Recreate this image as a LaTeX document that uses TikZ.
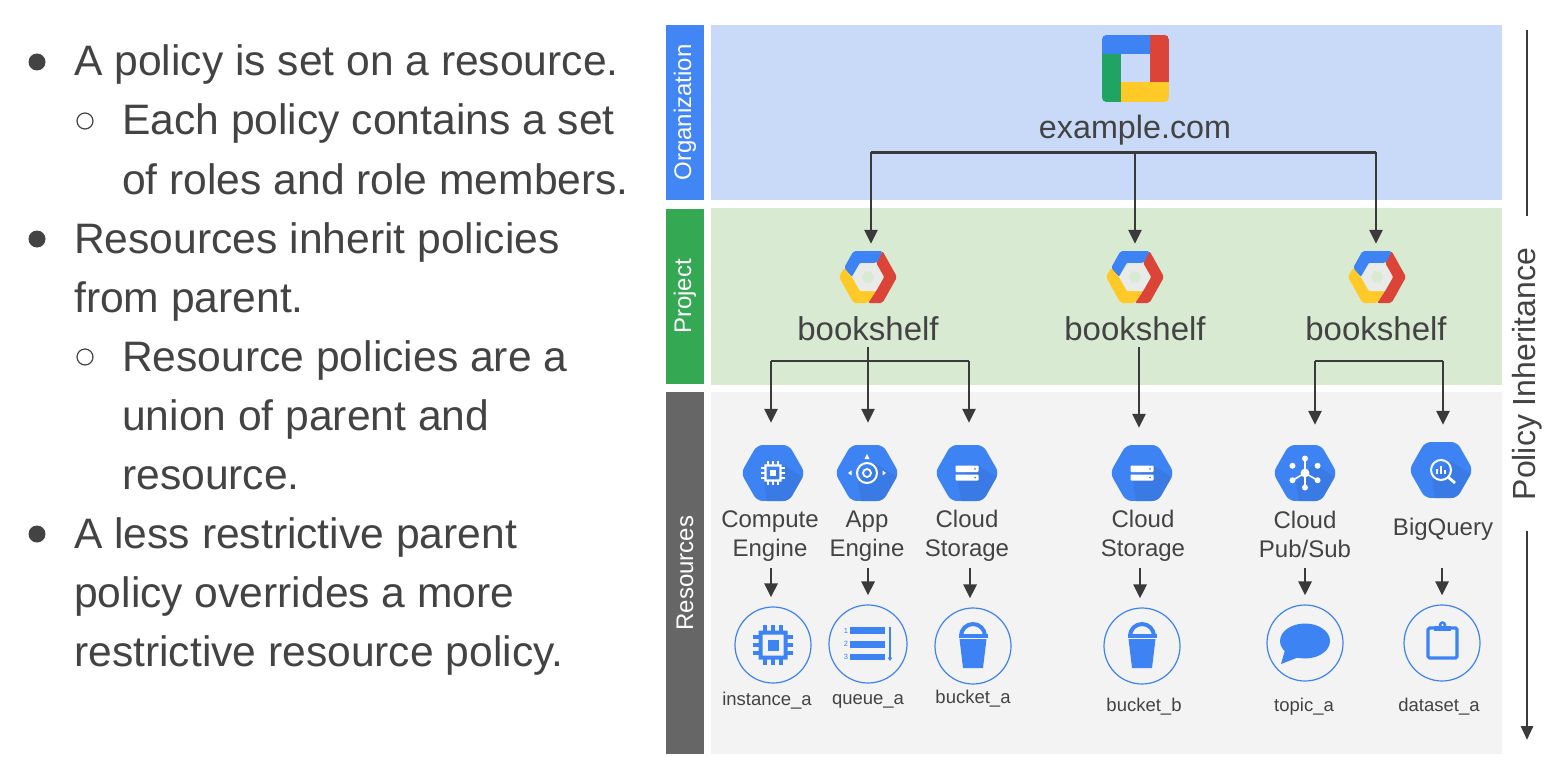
\documentclass[tikz,border=0pt]{standalone}
\usepackage{fontspec}
\setmainfont{Liberation Sans}
\usetikzlibrary{arrows.meta}
\definecolor{orgbar}{HTML}{4285F4}
\definecolor{orgpanel}{HTML}{C9DAF8}
\definecolor{projbar}{HTML}{34A853}
\definecolor{projpanel}{HTML}{D9EAD3}
\definecolor{resbar}{HTML}{666666}
\definecolor{respanel}{HTML}{F3F3F3}
\definecolor{ink}{HTML}{434343}
\definecolor{lineink}{HTML}{3A3A3A}
\definecolor{gblue}{HTML}{3D83F3}
\definecolor{gshade}{HTML}{3A7AE4}
\definecolor{gred}{HTML}{DB4437}
\definecolor{ggreen}{HTML}{1FA463}
\definecolor{gyellow}{HTML}{FFCA28}
\tikzset{
  barbox/.style={rotate=90,minimum height=38,inner sep=0,text=white,font=\fontsize{24}{28}\selectfont},
  panelbox/.style={minimum width=791,inner sep=0},
  body/.style={anchor=base west,inner sep=0,text=ink,font=\fontsize{42.6}{48}\selectfont},
  dotbullet/.style={circle,fill=ink,minimum size=17,inner sep=0},
  ringbullet/.style={circle,draw=ink,line width=1.2,minimum size=16,inner sep=0},
  hexbox/.style={minimum width=63,minimum height=56,inner sep=0},
  projbox/.style={minimum width=58,minimum height=52,inner sep=0},
  logobox/.style={minimum width=67,minimum height=67,inner sep=0},
  bigtext/.style={text=ink,inner sep=0,font=\fontsize{33}{38}\selectfont},
  svclabel/.style={text=ink,inner sep=0,align=center,minimum height=64,font=\fontsize{24}{29}\selectfont},
  itemcircle/.style={circle,draw=gblue,line width=1.2,minimum size=76,inner sep=0},
  itemlabel/.style={text=ink,inner sep=0,font=\fontsize{18.5}{22}\selectfont},
  conn/.style={draw=lineink,line width=2.8},
  arr/.style={conn,-{Triangle[length=14,width=13]}},
  sidearrow/.style={conn,-{Triangle[length=14,width=12]}}
}
\newcommand{\hexbg}[2]{%
  \begin{scope}[shift={(#1,#2)}]
    \begin{scope}
      \clip[rounded corners=6] (-32,0)--(-16,-28)--(16,-28)--(32,0)--(16,28)--(-16,28)--cycle;
      \fill[gblue] (-33,-28) rectangle (33,28);
      \fill[gshade] (9,-9)--(33,6)--(33,28)--(-6,28)--(-9,9)--cycle;
    \end{scope}
  \end{scope}}
\newcommand{\projhex}[2]{%
  \begin{scope}[shift={(#1,#2)}]
    \fill[gred,rounded corners=2] (8,-14)--(14.5,-26)--(29,0)--(14.5,26)--(0,26)--(8,14)--(16,0)--cycle;
    \fill[gblue,rounded corners=2] (-14.5,-26)--(14.5,-26)--(10,-16)--(8,-14)--(-8,-14)--(-16,0)--(-24,-9)--cycle;
    \fill[gyellow,rounded corners=2] (-24,-9)--(-16,0)--(-8,14)--(8,14)--(0,26)--(-14.5,26)--(-29,0)--cycle;
    \fill[white!85!gray,opacity=.8] (-16,0)--(-8,-14)--(8,-14)--(16,0)--(8,14)--(-8,14)--cycle;
    \fill[projpanel] (-6,0)--(-3,-5.5)--(3,-5.5)--(6,0)--(3,5.5)--(-3,5.5)--cycle;
  \end{scope}}
\newcommand{\chipglyph}[5]{% x y scale fg bg
  \begin{scope}[shift={(#1,#2)},scale=#3]
    \fill[#4,even odd rule] (-14.5,-14.5) rectangle (14.5,14.5) (-10.5,-10.5) rectangle (10.5,10.5);
    \fill[#4] (-5.5,-5.5) rectangle (5.5,5.5);
    \foreach \k in {-8,0,8}{
      \fill[#4] (\k-1.7,-20) rectangle (\k+1.7,-14);
      \fill[#4] (\k-1.7,14) rectangle (\k+1.7,20);
      \fill[#4] (-20,\k-1.7) rectangle (-14,\k+1.7);
      \fill[#4] (14,\k-1.7) rectangle (20,\k+1.7);
    }
  \end{scope}}
\newcommand{\storeglyph}[2]{%
  \begin{scope}[shift={(#1,#2)}]
    \fill[white,rounded corners=.8] (-11.5,-7.5) rectangle (11.5,-1);
    \fill[white,rounded corners=.8] (-11.5,1.5) rectangle (11.5,7.5);
    \fill[gblue] (8,-4.2) circle (1);
    \fill[gblue] (8,4.5) circle (1);
  \end{scope}}
\newcommand{\bucketglyph}[2]{%
  \begin{scope}[shift={(#1,#2)}]
    \draw[gblue,line width=4] (-12,-10) arc[start angle=180,end angle=360,x radius=12,y radius=12];
    \fill[gblue] (-14.5,-12) rectangle (14.5,-8.5);
    \fill[gblue] (-13.5,-7)--(13.5,-7)--(10,22)--(-10,22)--cycle;
  \end{scope}}
\begin{document}
\begin{tikzpicture}[x=1pt,y=-1pt]
\useasboundingbox (0,0) rectangle (1565,757);
\fill[white] (0,0) rectangle (1565,757);

% ---------- left text
\node[dotbullet] (bu1) at (37,62) {};
\node[body] (t1) at (74,76) {A policy is set on a resource.};
\node[ringbullet] (bu2) at (85,121) {};
\node[body] (t2) at (122,135) {Each policy contains a set};
\node[body] (t3) at (122,194) {of roles and role members.};
\node[dotbullet] (bu3) at (37,239) {};
\node[body] (t4) at (74,253) {Resources inherit policies};
\node[body] (t5) at (74,312) {from parent.};
\node[ringbullet] (bu4) at (85,357) {};
\node[body] (t6) at (122,371) {Resource policies are a};
\node[body] (t7) at (122,430) {union of parent and};
\node[body] (t8) at (122,489) {resource.};
\node[dotbullet] (bu5) at (37,534) {};
\node[body] (t9) at (74,548) {A less restrictive parent};
\node[body] (t10) at (74,607) {policy overrides a more};
\node[body] (t11) at (74,666) {restrictive resource policy.};

% ---------- bands
\node[panelbox,fill=orgpanel,minimum height=175] (porg) at (1106.5,112.5) {};
\node[panelbox,fill=projpanel,minimum height=177] (pproj) at (1106.5,296.5) {};
\node[panelbox,fill=respanel,minimum height=362] (pres) at (1106.5,573) {};
\node[barbox,fill=orgbar,minimum width=175] (borg) at (685,112.5) {Organization};
\node[barbox,fill=projbar,minimum width=175] (bproj) at (685,296.5) {Project};
\node[barbox,fill=resbar,minimum width=362] (bres) at (685,573) {Resources};

% ---------- org
\node[logobox] (logo) at (1135.5,68.5) {};
\begin{scope}
  \clip[rounded corners=5] (logo.south west) rectangle (logo.north east);
  \fill[gblue] (1102,35) rectangle (1150,54);
  \fill[gred] (1150,35) rectangle (1169,82);
  \fill[gyellow] (1121,82) rectangle (1169,102);
  \fill[ggreen] (1102,54) rectangle (1121,102);
\end{scope}
\node[bigtext,minimum height=44,font=\fontsize{32.3}{38}\selectfont] (dom) at (1135,130) {example.com};

% ---------- projects
\node[projbox] (p1) at (868,277) {};
\node[projbox] (p2) at (1135,277) {};
\node[projbox] (p3) at (1377,277) {};
\projhex{868}{277}\projhex{1135}{277}\projhex{1377}{277}
\node[bigtext,minimum height=36] (b1) at (868,329) {bookshelf};
\node[bigtext,minimum height=36] (b2) at (1135,329) {bookshelf};
\node[bigtext,minimum height=36] (b3) at (1376,329) {bookshelf};

% ---------- service hexagons
\node[hexbox] (r1) at (773,473) {};
\node[hexbox] (r2) at (867,473) {};
\node[hexbox] (r3) at (967,473) {};
\node[hexbox] (r4) at (1142,473) {};
\node[hexbox] (r5) at (1305,473) {};
\node[hexbox] (r6) at (1441,470) {};
\hexbg{773}{473}\hexbg{867}{473}\hexbg{967}{473}\hexbg{1142}{473}\hexbg{1305}{473}\hexbg{1441}{470}
\chipglyph{773}{473}{.6}{white}{gblue}
% app engine
\begin{scope}[shift={(867,473)}]
  \draw[white,line width=2] (0,0) circle (10);
  \draw[white,line width=1.8] (0,0) circle (4);
  \fill[white] (-19,0)--(-15.5,-2.5)--(-15.5,2.5)--cycle;
  \fill[white] (19,0)--(15.5,-2.5)--(15.5,2.5)--cycle;
  \fill[white] (-2.5,-14)--(2.5,-14)--(0,-19)--cycle;
\end{scope}
\storeglyph{967}{473}
\storeglyph{1142}{473}
% pub/sub
\begin{scope}[shift={(1305,473)}]
  \draw[white,line width=1.6] (0,0)--(0,-13) (0,0)--(0,13) (0,0)--(-12,7) (0,0)--(12,7);
  \fill[white] (0,0) circle (4.4);
  \foreach \a in {30,90,150,210,270,330}{\fill[white] (\a:14.5) circle (3);}
\end{scope}
% bigquery
\begin{scope}[shift={(1441,470)}]
  \draw[white,line width=2] (0,0) circle (10);
  \draw[white,line width=2.8] (7,7)--(14,13);
  \fill[white] (-5,-1) rectangle (-3,4);
  \fill[white] (-1,-4) rectangle (1,4);
  \fill[white] (3,0) rectangle (5,4);
\end{scope}

% ---------- service labels
\node[svclabel] (l1) at (770,536) {Compute\\Engine};
\node[svclabel] (l2) at (867,536) {App\\Engine};
\node[svclabel] (l3) at (967,536) {Cloud\\Storage};
\node[svclabel] (l4) at (1143,536) {Cloud\\Storage};
\node[svclabel,minimum height=68] (l5) at (1305,534) {Cloud\\Pub/Sub};
\node[svclabel,minimum height=78] (l6) at (1443,529) {BigQuery};

% ---------- item circles
\node[itemcircle] (c1) at (773,645) {};
\node[itemcircle,minimum size=78] (c2) at (868,644) {};
\node[itemcircle] (c3) at (973,646) {};
\node[itemcircle] (c4) at (1142,646) {};
\node[itemcircle] (c5) at (1305,643) {};
\node[itemcircle] (c6) at (1442,643) {};
\chipglyph{773}{645}{1}{gblue}{white}
% queue
\begin{scope}[shift={(868,644)}]
  \fill[gblue] (-18,-17) rectangle (17,-10.5);
  \fill[gblue] (-18,-3) rectangle (17,3.5);
  \fill[gblue] (-18,10) rectangle (17,16);
  \node[text=gblue,inner sep=0,font=\fontsize{7.5}{8}\selectfont] (n1) at (-22,-13.5) {1};
  \node[text=gblue,inner sep=0,font=\fontsize{7.5}{8}\selectfont] (n2) at (-22,0) {2};
  \node[text=gblue,inner sep=0,font=\fontsize{7.5}{8}\selectfont] (n3) at (-22,13) {3};
  \draw[gblue,line width=1.2,-{Triangle[length=3.5,width=4.5]}] (22,-17)--(22,17);
\end{scope}
\bucketglyph{973}{646}
\bucketglyph{1142}{646}
% bubble
\begin{scope}[shift={(1305,643)}]
  \fill[gblue] (0,-2) ellipse (25 and 17.5);
  \fill[gblue] (-20,7)--(-24,21)--(-6,14)--cycle;
\end{scope}
% clipboard
\begin{scope}[shift={(1442,643)}]
  \draw[gblue,line width=3.2,rounded corners=1.5] (-14,-15) rectangle (15,15);
  \fill[gblue] (-8,-17.5) rectangle (9,-12.5);
  \fill[gblue] (.5,-18) circle (3.8);
  \fill[white] (.5,-18) circle (1.2);
\end{scope}

% ---------- item labels
\node[itemlabel] (i1) at (767,701) {instance\_a};
\node[itemlabel] (i2) at (868,701) {queue\_a};
\node[itemlabel] (i3) at (973,699) {bucket\_a};
\node[itemlabel] (i4) at (1144,707) {bucket\_b};
\node[itemlabel] (i5) at (1304,707) {topic\_a};
\node[itemlabel] (i6) at (1439,707) {dataset\_a};

% ---------- connectors
\coordinate (orgbus) at (dom.south);
\draw[conn] ([xshift=-264]orgbus) -- ([xshift=241]orgbus);
\draw[arr,shorten >=7] (dom.south) -- (p2.north);
\draw[arr,shorten >=7] ([xshift=-264]orgbus) -- ([xshift=3]p1.north);
\draw[arr,shorten >=7] ([xshift=241]orgbus) -- ([xshift=-1]p3.north);

\coordinate (bus1) at (b1.south |- 0,361);
\draw[conn] ([xshift=-97]bus1) -- ([xshift=101]bus1);
\draw[arr,shorten >=22] (b1.south) -- (b1.south |- r2.north);
\draw[arr,shorten >=22] ([xshift=-97]bus1) -- ([xshift=-2]r1.north);
\draw[arr,shorten >=22] ([xshift=101]bus1) -- ([xshift=2]r3.north);
\draw[arr,shorten >=17] ([xshift=4]b2.south) -- ([xshift=-3]r4.north);
\coordinate (bus3l) at ([xshift=10]r5.north |- 0,361);
\coordinate (bus3r) at ([xshift=2]r6.north |- 0,361);
\draw[conn] (bus3l) -- (bus3r);
\draw[arr,shorten >=20] (bus3l) -- ([xshift=10]r5.north);
\draw[arr,shorten >=17] (bus3r) -- ([xshift=2]r6.north);

\foreach \l/\c/\s in {l1/c1/1,l2/c2/1,l3/c3/3,l4/c4/-3,l5/c5/0,l6/c6/-1}{
  \draw[arr,shorten >=9] ([xshift=\s]\l.south) -- ([xshift=\s]\l.south |- \c.north);
}

% ---------- side axis
\node[text=ink,rotate=90,inner sep=0,font=\fontsize{32}{36}\selectfont] (pol) at (1527,374) {Policy Inheritance};
\coordinate (axtop) at (1527,30);
\coordinate (axbot) at (1527,740);
\draw[conn,shorten >=32] (axtop) -- (axtop |- pol.east);
\draw[sidearrow,shorten <=31] (axbot |- pol.west) -- (axbot);
\end{tikzpicture}
\end{document}
